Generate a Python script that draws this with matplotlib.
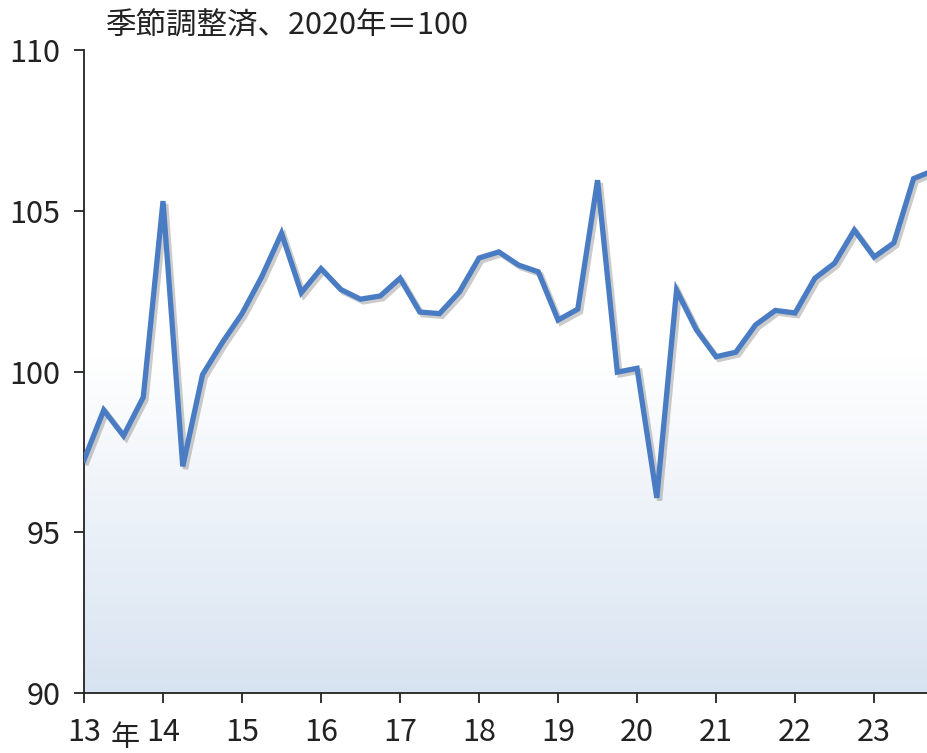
import numpy as np
import matplotlib
matplotlib.use("Agg")
import matplotlib.pyplot as plt
import matplotlib.patheffects as pe
from matplotlib.colors import LinearSegmentedColormap

plt.rcParams['font.family'] = ['Noto Sans CJK JP', 'DejaVu Sans']

# -----------------------------
# Data: quarterly index, 2013Q1 .. 2024Q1 (seasonally adjusted, 2020 = 100)
# -----------------------------
values = [97.25, 98.8, 98.0, 99.2,
          105.3, 97.05, 99.9, 100.9,
          101.8, 102.95, 104.3, 102.45,
          103.2, 102.55, 102.25, 102.35,
          102.9, 101.85, 101.8, 102.47,
          103.53, 103.72, 103.31, 103.1,
          101.6, 101.94, 105.95, 99.98,
          100.1, 96.07, 102.53, 101.3,
          100.46, 100.6, 101.45, 101.9,
          101.82, 102.9, 103.37, 104.4,
          103.56, 104.0, 106.0, 106.25]
year_labels = ["13", "14", "15", "16", "17", "18", "19", "20", "21", "22", "23"]
title_text = "季節調整済、2020年＝100"

x = np.arange(len(values))

fig = plt.figure(figsize=(9.28, 7.53), dpi=100)
ax = fig.add_axes([84 / 928, 1 - 693 / 753, 1 - 84 / 928, (693 - 50) / 753])

# background gradient: white top -> light blue bottom
cmap = LinearSegmentedColormap.from_list("bg", [(0.0, "#ffffff"), (0.48, "#ffffff"), (1.0, "#d8e3f1")])
grad = np.linspace(0, 1, 256).reshape(-1, 1)
ax.imshow(grad, cmap=cmap, aspect="auto", extent=[-0.5, 43.5, 90, 110],
          origin="upper", zorder=0)

ax.plot(x, values, color="#4a7cc4", lw=3.8, solid_joinstyle="miter", zorder=3,
        path_effects=[pe.SimpleLineShadow(offset=(2, -2), alpha=0.3, shadow_color="#555555"),
                      pe.Normal()])

ax.set_xlim(0, 42.73)
ax.set_ylim(90, 110)
ax.set_yticks([90, 95, 100, 105, 110])
ax.set_xticks(np.arange(0, 44, 4))
ax.set_xticklabels(year_labels)

for s in ["top", "right"]:
    ax.spines[s].set_visible(False)
for s in ["left", "bottom"]:
    ax.spines[s].set_linewidth(1.3)
    ax.spines[s].set_color("#222222")

ax.tick_params(axis="both", direction="out", length=7, width=1.3, labelsize=22,
               colors="#222222")
ax.tick_params(axis="y", pad=10)
ax.tick_params(axis="x", pad=10)

fig.text(105 / 928, 1 - 26 / 753, title_text, fontsize=22, ha="left", va="center",
         color="#222222")
fig.text(125 / 928, 1 - 738 / 753, "年", fontsize=21, ha="center", va="center",
         color="#222222")

plt.savefig("out.png", dpi=100)
print("saved out.png")
